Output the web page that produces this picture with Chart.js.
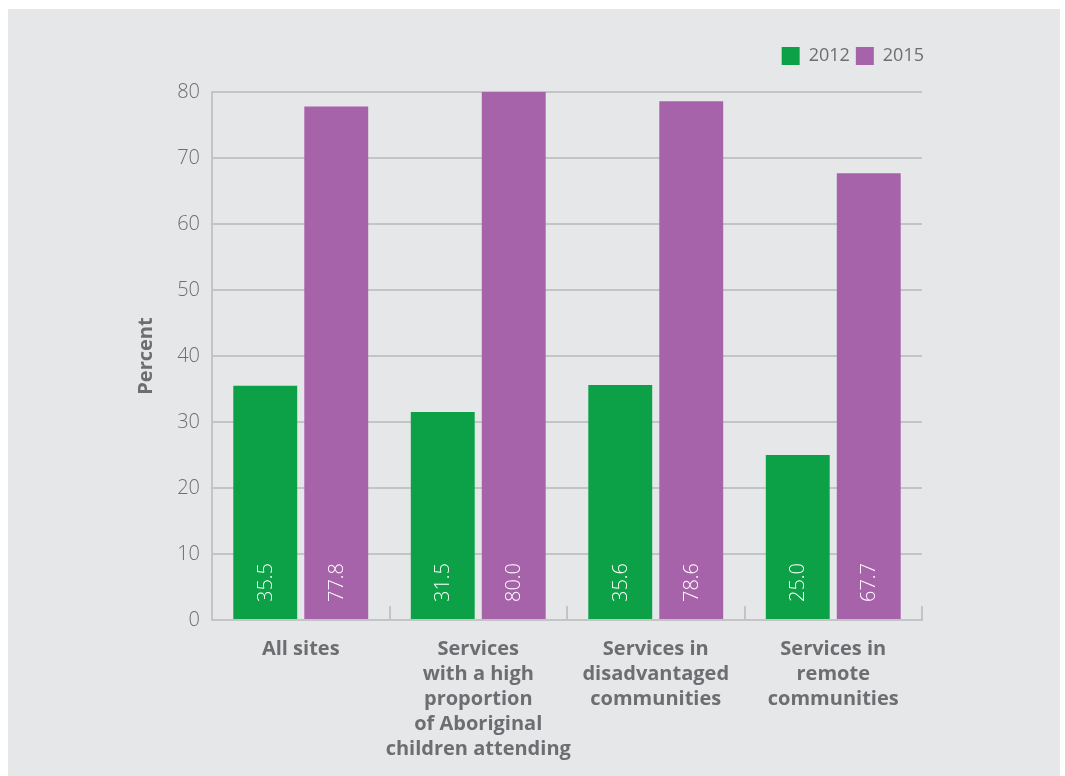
<!DOCTYPE html>
<html lang="en">
<head>
    <meta charset="UTF-8">
    <title>Percent by service type, 2012 and 2015</title>
    <script src="https://cdn.jsdelivr.net/npm/chart.js"></script>
    <style>
        body { margin: 0; background: #fff; }
        #panel {
            position: absolute; left: 8px; top: 9px;
            width: 1052px; height: 767px;
            background: #e6e7e8;
        }
    </style>
</head>
<body>
    <div id="panel"><canvas id="chart" width="1052" height="767"></canvas></div>

    <script>
        // data
        const categories = [
            ['All sites'],
            ['Services', 'with a high', 'proportion', 'of Aboriginal', 'children attending'],
            ['Services in', 'disadvantaged', 'communities'],
            ['Services in', 'remote', 'communities']
        ];
        const values2012 = [35.5, 31.5, 35.6, 25.0];
        const values2015 = [77.8, 80.0, 78.6, 67.7];
        const yTicks = [0, 10, 20, 30, 40, 50, 60, 70, 80];

        const textGrey = '#6d6e71';
        const gridGrey = '#c3c4c6';
        const fontFam = "'Open Sans', sans-serif";

        // white rotated numbers near the bottom of each bar
        const barLabels = {
            id: 'barLabels',
            afterDatasetsDraw(chart) {
                const ctx = chart.ctx;
                ctx.save();
                ctx.fillStyle = '#ffffff';
                ctx.font = '300 20px ' + fontFam;
                ctx.textAlign = 'left';
                ctx.textBaseline = 'middle';
                chart.data.datasets.forEach((ds, i) => {
                    chart.getDatasetMeta(i).data.forEach((bar, j) => {
                        ctx.save();
                        ctx.translate(bar.x, bar.base - 17);
                        ctx.rotate(-Math.PI / 2);
                        ctx.fillText(ds.data[j].toFixed(1), 0, 1);
                        ctx.restore();
                    });
                });
                ctx.restore();
            }
        };

        // small upward ticks between the categories
        const catTicks = {
            id: 'catTicks',
            afterDraw(chart) {
                const x = chart.scales.x, ctx = chart.ctx;
                const step = x.getPixelForValue(1) - x.getPixelForValue(0);
                ctx.save();
                ctx.strokeStyle = gridGrey;
                ctx.lineWidth = 2;
                for (let i = 1; i <= categories.length; i++) {
                    const px = Math.round(x.getPixelForValue(i) - step / 2);
                    ctx.beginPath();
                    ctx.moveTo(px, x.top);
                    ctx.lineTo(px, x.top - 14);
                    ctx.stroke();
                }
                ctx.restore();
            }
        };

        // extra room under the legend, and push it a bit to the right
        const legendGap = {
            id: 'legendGap',
            beforeInit(chart) {
                const fit = chart.legend.fit;
                chart.legend.fit = function () {
                    fit.call(this);
                    this.height += 17;
                };
            },
            afterLayout(chart) {
                chart.legend.left += 8;
                chart.legend.right += 8;
            }
        };

        new Chart(document.getElementById('chart'), {
            type: 'bar',
            data: {
                labels: categories,
                datasets: [
                    { label: '2012', data: values2012, backgroundColor: '#0ca147' },
                    { label: '2015', data: values2015, backgroundColor: '#a763a9' }
                ]
            },
            options: {
                responsive: false,
                animation: false,
                categoryPercentage: 0.8,
                barPercentage: 0.9,
                layout: { padding: { left: 120, right: 138, top: 32, bottom: 5 } },
                plugins: {
                    legend: {
                        position: 'top',
                        align: 'end',
                        labels: {
                            boxWidth: 18, boxHeight: 18, padding: 6,
                            color: textGrey,
                            font: { family: fontFam, size: 18 }
                        }
                    },
                    tooltip: { enabled: false }
                },
                scales: {
                    x: {
                        afterFit(s) { s.paddingRight = 0; },
                        grid: { display: false },
                        border: { display: true, color: gridGrey, width: 2 },
                        ticks: {
                            color: textGrey, padding: 9,
                            maxRotation: 0, minRotation: 0, autoSkip: false,
                            font: { family: fontFam, size: 20, weight: 'bold', lineHeight: 1.25 }
                        }
                    },
                    y: {
                        min: 0, max: 80,
                        afterBuildTicks(s) { s.ticks = yTicks.map(v => ({ value: v })); },
                        afterFit(s) { s.width = 84; },
                        grid: { color: gridGrey, lineWidth: 2, drawTicks: false },
                        border: { display: true, color: gridGrey, width: 2 },
                        ticks: {
                            color: textGrey, padding: 12,
                            font: { family: fontFam, size: 20, weight: '300' }
                        },
                        title: {
                            display: true, text: 'Percent', color: textGrey,
                            padding: { top: 6, bottom: 0 },
                            font: { family: fontFam, size: 20, weight: 'bold' }
                        }
                    }
                }
            },
            plugins: [barLabels, catTicks, legendGap]
        });
    </script>
</body>
</html>
